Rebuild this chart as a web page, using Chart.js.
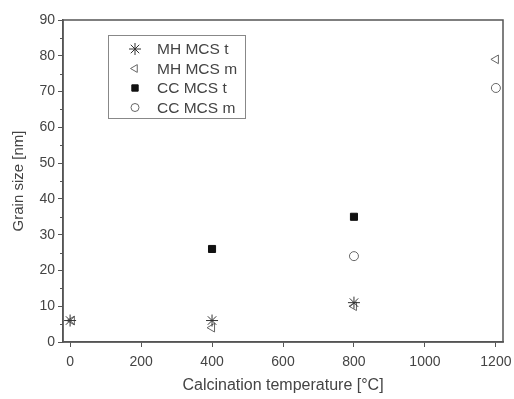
<!DOCTYPE html>
<html>
<head>
<meta charset="utf-8">
<script src="https://cdn.jsdelivr.net/npm/chart.js@4/dist/chart.umd.min.js"></script>
<style>
  html, body { margin: 0; padding: 0; background: #fff; }
  #wrap { width: 514px; height: 399px; }
</style>
</head>
<body>
<div id="wrap"><canvas id="grainChart" width="514" height="399"></canvas></div>
<script>
    "use strict";

    // data
    var seriesNames = ["MH MCS t", "MH MCS m", "CC MCS t", "CC MCS m"];
    var mhT_x = [0, 400, 800];
    var mhT_y = [6, 6, 11];
    var mhM_x = [5, 400, 800, 1200];
    var mhM_y = [6, 4, 10, 79];
    var ccT_x = [400, 800];
    var ccT_y = [26, 35];
    var ccM_x = [800, 1200];
    var ccM_y = [24, 71];
    var xTicks = [0, 200, 400, 600, 800, 1000, 1200];
    var yTicks = [0, 10, 20, 30, 40, 50, 60, 70, 80, 90];

    function pts(xs, ys) {
        var out = [];
        for (var i = 0; i < xs.length; i++) {
            out.push({x: xs[i], y: ys[i]});
        }
        return out;
    }

    var axisColor = "#555";
    var textColor = "#444";
    var fontFam = "'Liberation Sans', Arial, sans-serif";

    // frame round the plot + minor ticks on y + legend inside the plot
    var framePlugin = {
        id: "frame",
        afterDraw: function (chart) {
            var c = chart.ctx;
            var a = chart.chartArea;
            c.save();
            c.strokeStyle = axisColor;
            c.lineWidth = 1.5;
            c.strokeRect(a.left, a.top, a.right - a.left, a.bottom - a.top);

            // minor ticks on y
            var ys = chart.scales.y;
            c.lineWidth = 1;
            for (var v = 5; v < 90; v += 10) {
                var py = Math.round(ys.getPixelForValue(v)) + 0.5;
                c.beginPath();
                c.moveTo(a.left, py);
                c.lineTo(a.left - 3, py);
                c.stroke();
            }

            // legend box
            var bx = 108, by = 35, bw = 137, bh = 83;
            c.lineWidth = 1;
            c.strokeStyle = "#888";
            c.strokeRect(bx + 0.5, by + 0.5, bw, bh);
            c.font = "15.5px " + fontFam;
            c.textBaseline = "middle";
            for (var i = 0; i < chart.data.datasets.length; i++) {
                var ds = chart.data.datasets[i];
                var ly = by + 14 + i * 19.5;
                c.fillStyle = ds.backgroundColor;
                c.strokeStyle = ds.borderColor;
                c.lineWidth = ds.borderWidth;
                Chart.helpers.drawPoint(c, {
                    pointStyle: ds.pointStyle,
                    rotation: ds.pointRotation || 0,
                    radius: ds.legendRadius,
                    borderWidth: ds.borderWidth
                }, bx + 27, ly);
                c.fillStyle = textColor;
                c.fillText(ds.label, bx + 49, ly + 1);
            }
            c.restore();
        }
    };

    var ctx = document.getElementById("grainChart");
    var myChart = new Chart(ctx, {
        type: "scatter",
        data: {
            datasets: [{
                label: seriesNames[0],
                data: pts(mhT_x, mhT_y),
                pointStyle: "star",
                pointRadius: 6,
                legendRadius: 6,
                borderWidth: 1,
                borderColor: "#333",
                backgroundColor: "#333"
            }, {
                label: seriesNames[1],
                data: pts(mhM_x, mhM_y),
                pointStyle: "triangle",
                pointRotation: -90,
                pointRadius: 5,
                legendRadius: 4.5,
                borderWidth: 1,
                borderColor: "#666",
                backgroundColor: "rgba(0,0,0,0)"
            }, {
                label: seriesNames[2],
                data: pts(ccT_x, ccT_y),
                pointStyle: "rect",
                pointRadius: 5,
                legendRadius: 4.5,
                borderWidth: 1,
                borderColor: "#111",
                backgroundColor: "#111"
            }, {
                label: seriesNames[3],
                data: pts(ccM_x, ccM_y),
                pointStyle: "circle",
                pointRadius: 4.5,
                legendRadius: 4,
                borderWidth: 1,
                borderColor: "#666",
                backgroundColor: "rgba(0,0,0,0)"
            }]
        },
        options: {
            responsive: false,
            animation: false,
            events: [],
            layout: {
                padding: {top: 20, right: 11, left: 10, bottom: 0}
            },
            plugins: {
                legend: {display: false},
                tooltip: {enabled: false}
            },
            scales: {
                x: {
                    type: "linear",
                    min: -20,
                    max: 1220,
                    afterBuildTicks: function (scale) {
                        scale.ticks = xTicks.map(function (v) { return {value: v}; });
                    },
                    afterFit: function (scale) {
                        scale.height = 57;
                        scale.paddingRight = 0;
                        scale.paddingLeft = 0;
                    },
                    grid: {
                        drawOnChartArea: false,
                        drawTicks: true,
                        tickLength: 5,
                        tickColor: axisColor,
                        tickWidth: 1
                    },
                    border: {color: axisColor, width: 1.5},
                    ticks: {
                        color: textColor,
                        padding: 7,
                        maxRotation: 0,
                        callback: function (v) { return String(v); },
                        font: {family: fontFam, size: 14}
                    },
                    title: {
                        display: true,
                        text: "Calcination temperature [°C]",
                        color: textColor,
                        padding: {top: 1, bottom: 4},
                        font: {family: fontFam, size: 16}
                    }
                },
                y: {
                    type: "linear",
                    min: 0,
                    max: 90,
                    afterBuildTicks: function (scale) {
                        scale.ticks = yTicks.map(function (v) { return {value: v}; });
                    },
                    afterFit: function (scale) { scale.width = 53; },
                    grid: {
                        drawOnChartArea: false,
                        drawTicks: true,
                        tickLength: 5,
                        tickColor: axisColor,
                        tickWidth: 1
                    },
                    border: {color: axisColor, width: 1.5},
                    ticks: {
                        color: textColor,
                        padding: 3,
                        font: {family: fontFam, size: 14}
                    },
                    title: {
                        display: true,
                        text: "Grain size [nm]",
                        color: textColor,
                        padding: {top: 0, bottom: 4},
                        font: {family: fontFam, size: 15}
                    }
                }
            }
        },
        plugins: [framePlugin]
    });
</script>
</body>
</html>
